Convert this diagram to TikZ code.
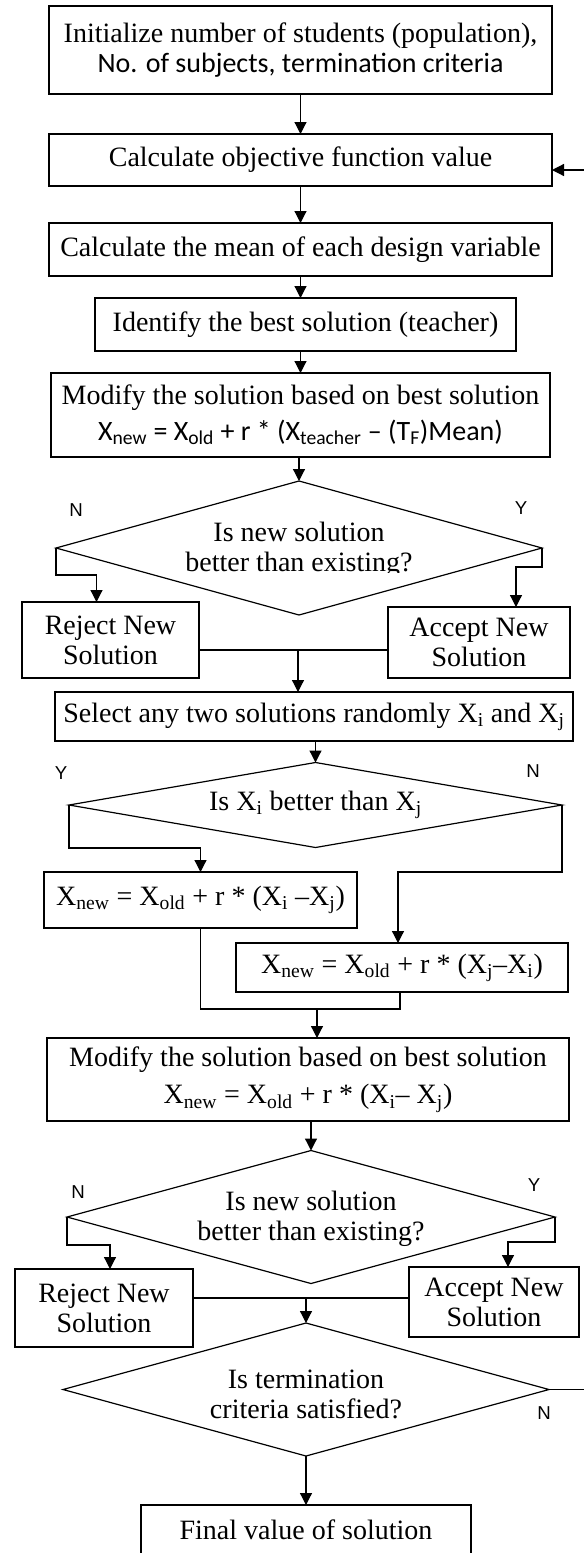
\documentclass[tikz,border=0pt]{standalone}
\usepackage{fontspec}
\setmainfont{Liberation Serif}
\newfontfamily\calibrif{Carlito}
\newfontfamily\labelf{Liberation Sans}
\usetikzlibrary{arrows.meta,shapes.geometric,calc}
\tikzset{
  wh/.style 2 args={minimum width=#1*0.75pt,minimum height=#2*0.75pt},
  box/.style={draw,line width=0.9pt,inner sep=0pt,outer sep=0pt,align=center,
    font=\fontsize{21}{22.5}\selectfont},
  dec/.style={draw,diamond,line width=0.9pt,inner sep=0pt,outer sep=0pt},
  txt/.style={align=center,inner sep=0pt,font=\fontsize{21}{22.5}\selectfont},
  yn/.style={font=\labelf\fontsize{14}{14}\selectfont,inner sep=0pt},
  link/.style={line width=0.9pt},
  arr/.style={link,-{Triangle[length=9pt,width=9pt]}},
}
\newcommand{\sub}[1]{\textsubscript{#1}}
\begin{document}
\begin{tikzpicture}[x=0.75pt,y=-0.75pt]
\clip (0,0) rectangle (584,1553);
\fill[white] (0,0) rectangle (584,1553);

% teacher phase
\node[box,wh={503}{88}] (b1) at (300.5,50)
  {Initialize number of students (population),\\{\calibrif No. of subjects, termination criteria}};
\node[box,wh={503}{52}] (b2) at (300.5,160) {Calculate objective function value};
\node[box,wh={503}{53}] (b3) at (300.5,249.5) {Calculate the mean of each design variable};
\node[box,wh={421}{53}] (b4) at (305.5,324.5) {Identify the best solution (teacher)};
\node[box,wh={499}{84},font=\fontsize{21}{27}\selectfont] (b5) at (300.5,415)
  {Modify the solution based on best solution\\
   {\calibrif X\sub{new} = X\sub{old} + r * (X\sub{teacher} – (T\sub{F})Mean)}};

\node[dec,wh={486}{134}] (d1) at (299,548) {};
\begin{scope}
  \clip (0,470) rectangle (584,572);
  \node[txt] (d1t) at (299,550) {Is new solution\\better than existing?};
\end{scope}
\node[yn] (n1) at (76,510) {N};
\node[yn] (y1) at (521,508) {Y};

\node[box,wh={177}{76}] (rej1) at (110.5,640) {Reject New\\Solution};
\node[box,wh={182}{71}] (acc1) at (479,642.5) {Accept New\\Solution};

% learner phase
\node[box,wh={518}{49}] (sel) at (314,716.5)
  {Select any two solutions randomly X\sub{i} and X\sub{j}};
\node[dec,wh={493}{85}] (d2) at (315.5,805) {};
\node[txt] (d2t) at (315.5,805) {Is X\sub{i} better than X\sub{j}};
\node[yn] (y2) at (61,773) {Y};
\node[yn] (n2) at (533,771) {N};

\node[box,wh={313}{56}] (bA) at (200.5,900)
  {X\sub{new} = X\sub{old} + r * (X\sub{i} –X\sub{j})};
\node[box,wh={332}{49}] (bB) at (402,967.5)
  {X\sub{new} = X\sub{old} + r * (X\sub{j}–X\sub{i})};

\node[box,wh={522}{83},font=\fontsize{21}{28}\selectfont] (b6) at (308,1079.5)
  {Modify the solution based on best solution\\
   X\sub{new} = X\sub{old} + r * (X\sub{i}– X\sub{j})};

\node[dec,wh={488}{133}] (d3) at (311,1217) {};
\node[txt] (d3t) at (311,1219) {Is new solution\\better than existing?};
\node[yn] (n3) at (78,1192) {N};
\node[yn] (y3) at (534,1185) {Y};

\node[box,wh={178}{78}] (rej2) at (104,1308) {Reject New\\Solution};
\node[box,wh={170}{70}] (acc2) at (494,1302) {Accept New\\Solution};

\node[dec,wh={486}{133}] (d4) at (306,1389.5) {};
\begin{scope}
  \clip (0,1320) rectangle (584,1418);
  \node[txt] (d4t) at (306,1394) {Is termination\\criteria satisfied?};
\end{scope}
\node[yn] (n4) at (544,1413) {N};

\node[box,wh={330}{62}] (fin) at (306,1536) {};
\node[txt] (fint) at (306,1530) {Final value of solution};

% main flow
\draw[arr] (b1.south) -- (b2.north);
\draw[arr] (b2.south) -- (b3.north);
\draw[arr] (b3.south) -- (b3.south |- b4.north);
\draw[arr] (b4.south -| b3.south) -- (b3.south |- b5.north);
\draw[arr] (b5.south -| d1.north) -- (d1.north);

% first decision
\draw[arr] (d1.west) -- ++(0,27) -| ([shift={(-14,0)}]rej1.north);
\draw[arr] (d1.east) -- ++(0,19) -| ([shift={(37,0)}]acc1.north);
\coordinate (j1) at (298,650);
\draw[link] (rej1.east |- j1) -- (acc1.west |- j1);
\draw[arr] (j1) -- (j1 |- sel.north);
\draw[arr] (sel.south -| d2.north) -- (d2.north);

% second decision
\draw[arr] (d2.west) -- ++(0,43) -| (bA.north);
\draw[arr] (d2.east) -- (d2.east |- bA.north) -| ([shift={(-4,0)}]bB.north);
\coordinate (j2) at (317,1009);
\draw[link] (bA.south) |- (j2);
\draw[link] ([shift={(-2,0)}]bB.south) |- (j2);
\draw[arr] (j2) -- (j2 |- b6.north);
\draw[arr] (b6.south -| d3.north) -- (d3.north);

% third decision
\draw[arr] (d3.west) -- ++(0,28) -| ([shift={(6,0)}]rej2.north);
\draw[arr] (d3.east) -- ++(0,25) -| ([shift={(14,0)}]acc2.north);
\coordinate (j3) at (306,1298);
\draw[link] (rej2.east |- j3) -- (acc2.west |- j3);
\draw[arr] (j3) -- (d4.north);

% termination
\draw[arr] (d4.south) -- (fin.north);
\coordinate (loopr) at (610,1389.5);
\draw[arr] (d4.east) -- (loopr) |- ([shift={(0,10)}]b2.east);
\end{tikzpicture}
\end{document}
